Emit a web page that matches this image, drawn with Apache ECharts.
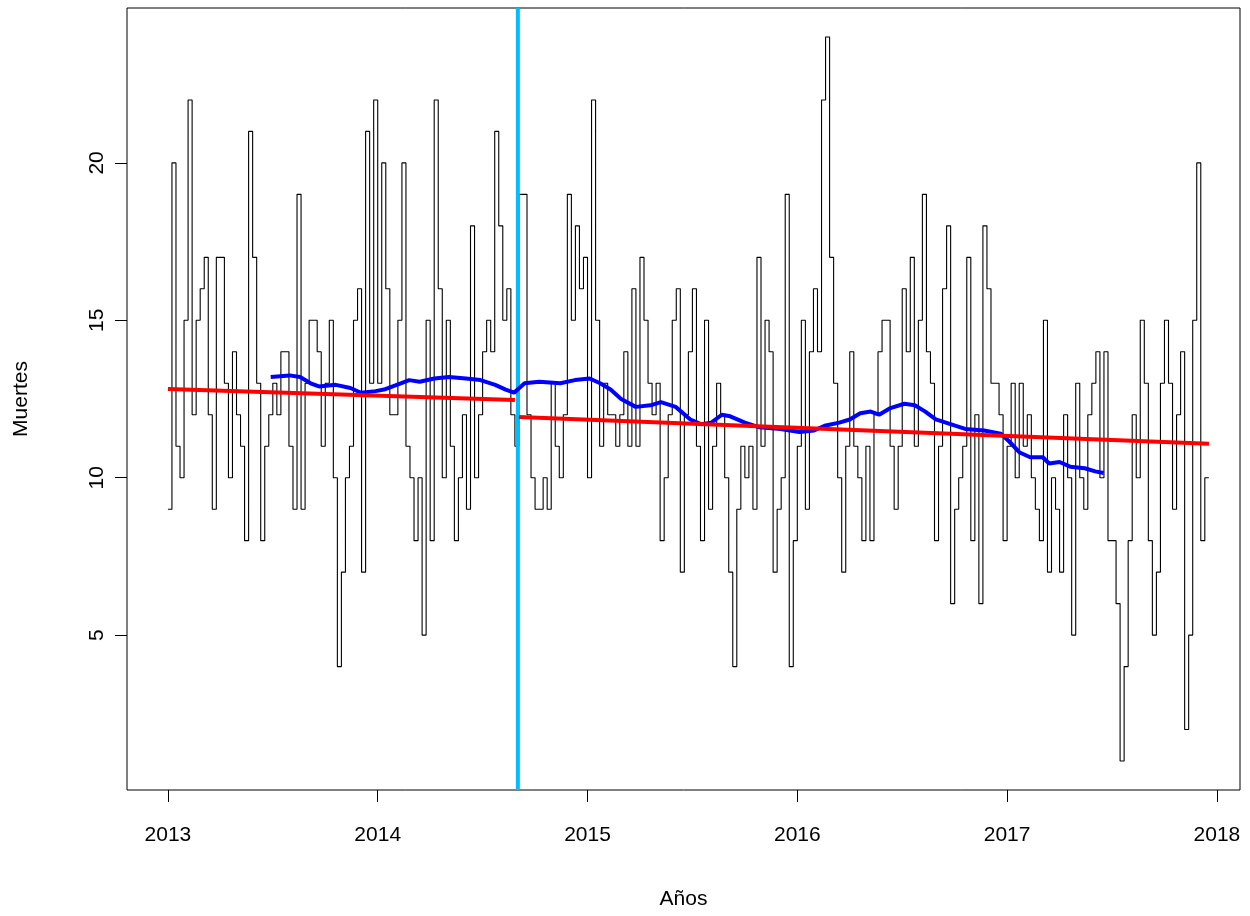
<!DOCTYPE html>
<html>
<head>
<meta charset="utf-8">
<script src="https://cdn.jsdelivr.net/npm/echarts@6/dist/echarts.min.js"></script>
<style>
html,body{margin:0;padding:0;background:#fff;}
#c{width:1250px;height:916px;}
</style>
</head>
<body>
<div id="c"></div>
<script>
// ---- data ----
const startYear = 2013;
const frequency = 52;
const deaths = [
  9, 20, 11, 10, 15, 22, 12, 15, 16, 17,
  12, 9, 17, 17, 13, 10, 14, 12, 11, 8,
  21, 17, 13, 8, 11, 12, 13, 12, 14, 14,
  11, 9, 19, 9, 13, 15, 15, 14, 11, 13,
  15, 10, 4, 7, 10, 11, 15, 16, 7, 21,
  13, 22, 13, 20, 16, 12, 12, 15, 20, 11,
  10, 8, 10, 5, 15, 8, 22, 16, 10, 15,
  11, 8, 10, 12, 9, 18, 10, 12, 14, 15,
  14, 21, 18, 15, 16, 12, 11, 19, 19, 12,
  10, 9, 9, 10, 9, 13, 11, 10, 12, 19,
  15, 18, 16, 17, 10, 22, 15, 11, 13, 12,
  12, 11, 12, 14, 11, 16, 11, 17, 15, 13,
  12, 13, 8, 10, 12, 15, 16, 7, 12, 14,
  16, 11, 8, 15, 9, 11, 13, 12, 10, 7,
  4, 9, 11, 10, 11, 9, 17, 11, 15, 14,
  7, 9, 10, 19, 4, 8, 11, 15, 9, 14,
  16, 14, 22, 24, 17, 13, 10, 7, 11, 14,
  11, 10, 8, 11, 8, 12, 14, 15, 15, 11,
  9, 11, 16, 14, 17, 11, 15, 19, 14, 13,
  8, 11, 16, 18, 6, 9, 10, 11, 17, 8,
  12, 6, 18, 16, 13, 13, 12, 8, 11, 13,
  10, 13, 11, 12, 10, 9, 8, 15, 7, 10,
  9, 7, 12, 10, 5, 13, 10, 9, 12, 13,
  14, 10, 14, 8, 8, 6, 1, 4, 8, 12,
  10, 15, 13, 8, 5, 7, 13, 15, 13, 9,
  12, 14, 2, 5, 15, 20, 8, 10, 10
];

// moving average
const maYears = [
  2013.49, 2013.58, 2013.63, 2013.68, 2013.72, 2013.80, 2013.87, 2013.92, 2013.99, 2014.03,
  2014.11, 2014.15, 2014.20, 2014.27, 2014.34, 2014.42, 2014.49, 2014.56, 2014.61, 2014.65,
  2014.70, 2014.77, 2014.87, 2014.94, 2015.01, 2015.06, 2015.11, 2015.16, 2015.23, 2015.30,
  2015.35, 2015.42, 2015.49, 2015.54, 2015.59, 2015.64, 2015.68, 2015.75, 2015.82, 2015.92,
  2016.01, 2016.08, 2016.13, 2016.20, 2016.25, 2016.30, 2016.35, 2016.39, 2016.44, 2016.51,
  2016.56, 2016.61, 2016.66, 2016.73, 2016.80, 2016.89, 2016.97, 2017.01, 2017.06, 2017.11,
  2017.17, 2017.20, 2017.25, 2017.30, 2017.37, 2017.42, 2017.46
];
const maValues = [
  13.20, 13.25, 13.20, 13.00, 12.90, 12.95, 12.85, 12.70, 12.75, 12.80,
  13.00, 13.10, 13.05, 13.15, 13.20, 13.15, 13.10, 12.95, 12.80, 12.70,
  13.00, 13.05, 13.00, 13.10, 13.15, 13.00, 12.80, 12.50, 12.25, 12.30,
  12.40, 12.25, 11.85, 11.70, 11.75, 12.00, 11.95, 11.75, 11.60, 11.55,
  11.45, 11.50, 11.65, 11.75, 11.85, 12.05, 12.10, 12.00, 12.20, 12.35,
  12.30, 12.10, 11.85, 11.70, 11.55, 11.50, 11.40, 11.15, 10.80, 10.65,
  10.65, 10.45, 10.50, 10.35, 10.30, 10.20, 10.15
];

// segmented trend lines (before / after intervention)
const trendBeforeYears = [2013.0, 2014.654];
const trendBeforeValues = [12.82, 12.47];
const trendAfterYears = [2014.673, 2017.962];
const trendAfterValues = [11.93, 11.08];

const interventionYear = 2014.668;

const xTickLabels = [2013, 2014, 2015, 2016, 2017, 2018];
const yTickLabels = [5, 10, 15, 20];

// ---- chart ----
const X_MIN = 2012.805, X_MAX = 2018.11;
const Y_MIN = 0.08, Y_MAX = 24.92;
const FONT = '"Liberation Sans", Arial, sans-serif';
const FS = 21;

const chart = echarts.init(document.getElementById('c'), null, {renderer: 'canvas'});

const toPairs = (xs, ys) => xs.map((x, i) => [x, ys[i]]);

chart.setOption({
  animation: false,
  backgroundColor: '#ffffff',
  grid: {
    left: 127, top: 8, right: 10, bottom: 126,
    show: true, borderColor: '#000', borderWidth: 1, backgroundColor: 'transparent'
  },
  xAxis: {
    type: 'value', min: X_MIN, max: X_MAX,
    axisLine: {show: false},
    splitLine: {show: false},
    axisTick: {show: true, inside: false, length: 12, lineStyle: {color: '#000', width: 1}, customValues: xTickLabels},
    axisLabel: {customValues: xTickLabels, margin: 35, fontSize: FS, color: '#000', fontFamily: FONT,
      formatter: v => String(Math.round(v))},
    name: 'Años', nameLocation: 'middle', nameGap: 99,
    nameTextStyle: {fontSize: FS, color: '#000', fontFamily: FONT}
  },
  yAxis: {
    type: 'value', min: Y_MIN, max: Y_MAX,
    axisLine: {show: false},
    splitLine: {show: false},
    axisTick: {show: true, inside: false, length: 12, lineStyle: {color: '#000', width: 1}, customValues: yTickLabels},
    axisLabel: {customValues: yTickLabels, rotate: 90, margin: 19, fontSize: FS, color: '#000', fontFamily: FONT,
      formatter: v => String(Math.round(v))},
    name: 'Muertes', nameLocation: 'middle', nameGap: 95,
    nameTextStyle: {fontSize: FS, color: '#000', fontFamily: FONT}
  },
  series: [
    {
      type: 'line', step: 'end', symbol: 'none', z: 2,
      data: deaths.map((v, i) => [startYear + i / frequency, v]),
      lineStyle: {color: '#000', width: 1.1}
    },
    {
      type: 'line', symbol: 'none', z: 3,
      data: [[interventionYear, Y_MIN], [interventionYear, Y_MAX]],
      lineStyle: {color: '#00BFFF', width: 4}
    },
    {
      type: 'line', symbol: 'none', z: 4,
      data: toPairs(maYears, maValues),
      lineStyle: {color: '#0000FF', width: 4}
    },
    {
      type: 'line', symbol: 'none', z: 5,
      data: toPairs(trendBeforeYears, trendBeforeValues),
      lineStyle: {color: '#FF0000', width: 4}
    },
    {
      type: 'line', symbol: 'none', z: 5,
      data: toPairs(trendAfterYears, trendAfterValues),
      lineStyle: {color: '#FF0000', width: 4}
    }
  ]
});
</script>
</body>
</html>
